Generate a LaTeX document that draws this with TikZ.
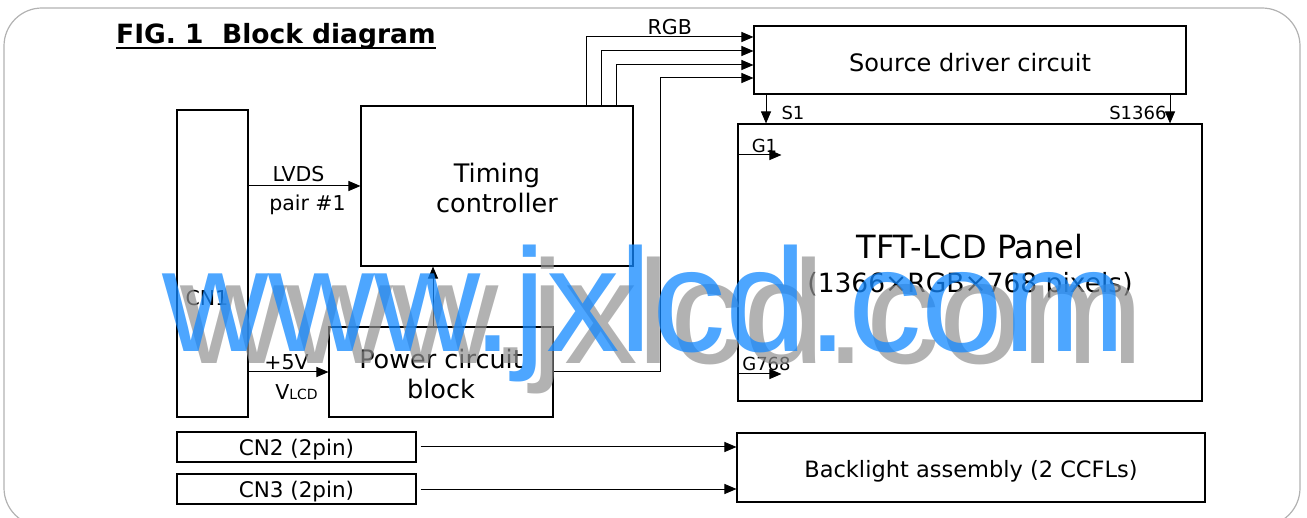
\documentclass[tikz,border=0pt]{standalone}
\usepackage{fontspec}
\setmainfont{DejaVu Sans}
\newfontfamily\wmfont{Liberation Sans}
\usetikzlibrary{arrows.meta,calc}
\definecolor{wmblue}{RGB}{18,136,255}
\definecolor{wmgray}{RGB}{146,146,146}

\begin{document}
\begin{tikzpicture}[x=1pt,y=-1pt,
    block/.style={draw,line width=1.1pt,inner sep=0pt},
    boxtext/.style={align=center,inner sep=0pt,yshift=-3pt,font=\fontsize{25.5}{30}\selectfont},
    sig/.style={-{Triangle[length=12pt,width=10pt]},line width=1pt},
    lbl/.style={font=\fontsize{20.5}{24}\selectfont,inner sep=2pt},
    pinlbl/.style={font=\fontsize{18}{21}\selectfont,inner sep=1pt}]
    % Fix the page size and draw the outer frame.
    \useasboundingbox (0,0) rectangle (1307,518);
    \draw[gray!60,line width=1.2pt,rounded corners=38pt] (4,8) rectangle (1300,526);
    % Draw the title.
    \node[anchor=base west,inner sep=0pt,font=\fontsize{26.5}{30}\selectfont\bfseries] (title) at (116,44) {FIG. 1\ \ Block diagram};
    \draw[line width=2.5pt] ($(title.base west)+(0,4)$) -- ($(title.base east)+(0,4)$);
    % Draw the blocks.
    \node[block,minimum width=71pt,minimum height=307pt] (cn1) at (212.5,263.5) {};
    \node[lbl] (cn1name) at (207,298) {CN1};
    \node[block,minimum width=272pt,minimum height=160pt,
      label={[boxtext,yshift=1.5pt]center:{Timing\\controller}}] (timing) at (497,186) {};
    \node[block,minimum width=224pt,minimum height=90pt,
      label={[boxtext,yshift=1.5pt]center:{Power circuit\\block}}] (power) at (441,372) {};
    \node[block,minimum width=432pt,minimum height=68pt,
      label={[boxtext,font=\fontsize{24}{28}\selectfont]center:{Source driver circuit}}] (source) at (970,60) {};
    \node[block,minimum width=464pt,minimum height=277pt,
      label={[boxtext,yshift=-1pt,font=\fontsize{32}{34}\selectfont]center:{TFT-LCD Panel\\{\fontsize{26.5}{30}\selectfont(1366×RGB×768 pixels)}}}] (panel) at (970,262.5) {};
    \node[block,minimum width=239pt,minimum height=30pt,
      label={[boxtext,font=\fontsize{21.5}{24}\selectfont]center:{CN2 (2pin)}}] (cn2) at (296.5,447) {};
    \node[block,minimum width=239pt,minimum height=30pt,
      label={[boxtext,font=\fontsize{21.5}{24}\selectfont]center:{CN3 (2pin)}}] (cn3) at (296.5,489) {};
    \node[block,minimum width=468pt,minimum height=69pt,
      label={[boxtext,yshift=-1pt,font=\fontsize{22.5}{26}\selectfont]center:{Backlight assembly (2 CCFLs)}}] (backlight) at (971,467.5) {};
    % Inputs from CN1.
    \draw[sig] (cn1.east |- timing.west) -- (timing.west) node[lbl,midway,above,inner sep=4pt,xshift=-6pt] {LVDS} node[lbl,midway,below,inner sep=8pt,xshift=3pt] {pair \#1};
    \draw[sig] (cn1.east |- power.west) -- (power.west) node[lbl,midway,above,xshift=-2pt] {+5V} node[lbl,midway,below,inner sep=12pt,xshift=8pt] {V{\fontsize{14}{16}\selectfont LCD}};
    % Supply from the power block.
    \coordinate (pwrup) at ($(power.north)+(-8,0)$);
    \draw[sig] (pwrup) -- (pwrup |- timing.south);
    \draw[sig] (power.east) -| ($(source.west)+(-93,18)$) -- ($(source.west)+(0,18)$);
    % RGB buses to the source driver.
    \draw[sig] ($(timing.north)+(89,0)$) |- ($(source.west)+(0,-23)$) node[lbl,pos=0.75,above] {RGB};
    \foreach \dx/\dy in {104/-9,119/5}
      \draw[sig] ($(timing.north)+(\dx,0)$) |- ($(source.west)+(0,\dy)$);
    % Source lines and gate lines of the panel.
    \coordinate (s1) at ($(source.south)+(-204,0)$);
    \coordinate (s1366) at ($(source.south)+(200,0)$);
    \draw[sig] (s1) -- (s1 |- panel.north) node[pinlbl,midway,right,xshift=14pt,yshift=-4pt] {S1};
    \draw[sig] (s1366) -- (s1366 |- panel.north) node[pinlbl,midway,left,xshift=-2pt,yshift=-4pt] {S1366};
    \coordinate (g1) at ($(panel.west)+(44,-107.5)$);
    \coordinate (g768) at ($(panel.west)+(44,111.5)$);
    \draw[sig] (panel.west |- g1) -- (g1) node[pinlbl,midway,above,xshift=5pt,yshift=1pt] {G1};
    \draw[sig] (panel.west |- g768) -- (g768) node[pinlbl,midway,above,xshift=7pt,yshift=2pt] {G768};
    % Backlight lamp connectors.
    \draw[sig,shorten <=4pt] (cn2.east) -- (cn2.east -| backlight.west);
    \draw[sig,shorten <=4pt] (cn3.east) -- (cn3.east -| backlight.west);
    % Watermark.
    \node[anchor=base west,inner sep=0pt,text=wmgray,opacity=0.7,font=\wmfont\fontsize{147}{150}\selectfont] (wmshadow) at (180,364) {www.jxlcd.com};
    \node[anchor=base west,inner sep=0pt,text=wmblue,opacity=0.75,font=\wmfont\fontsize{147}{150}\selectfont] (wmtext) at (162,352) {www.jxlcd.com};
\end{tikzpicture}
\end{document}
